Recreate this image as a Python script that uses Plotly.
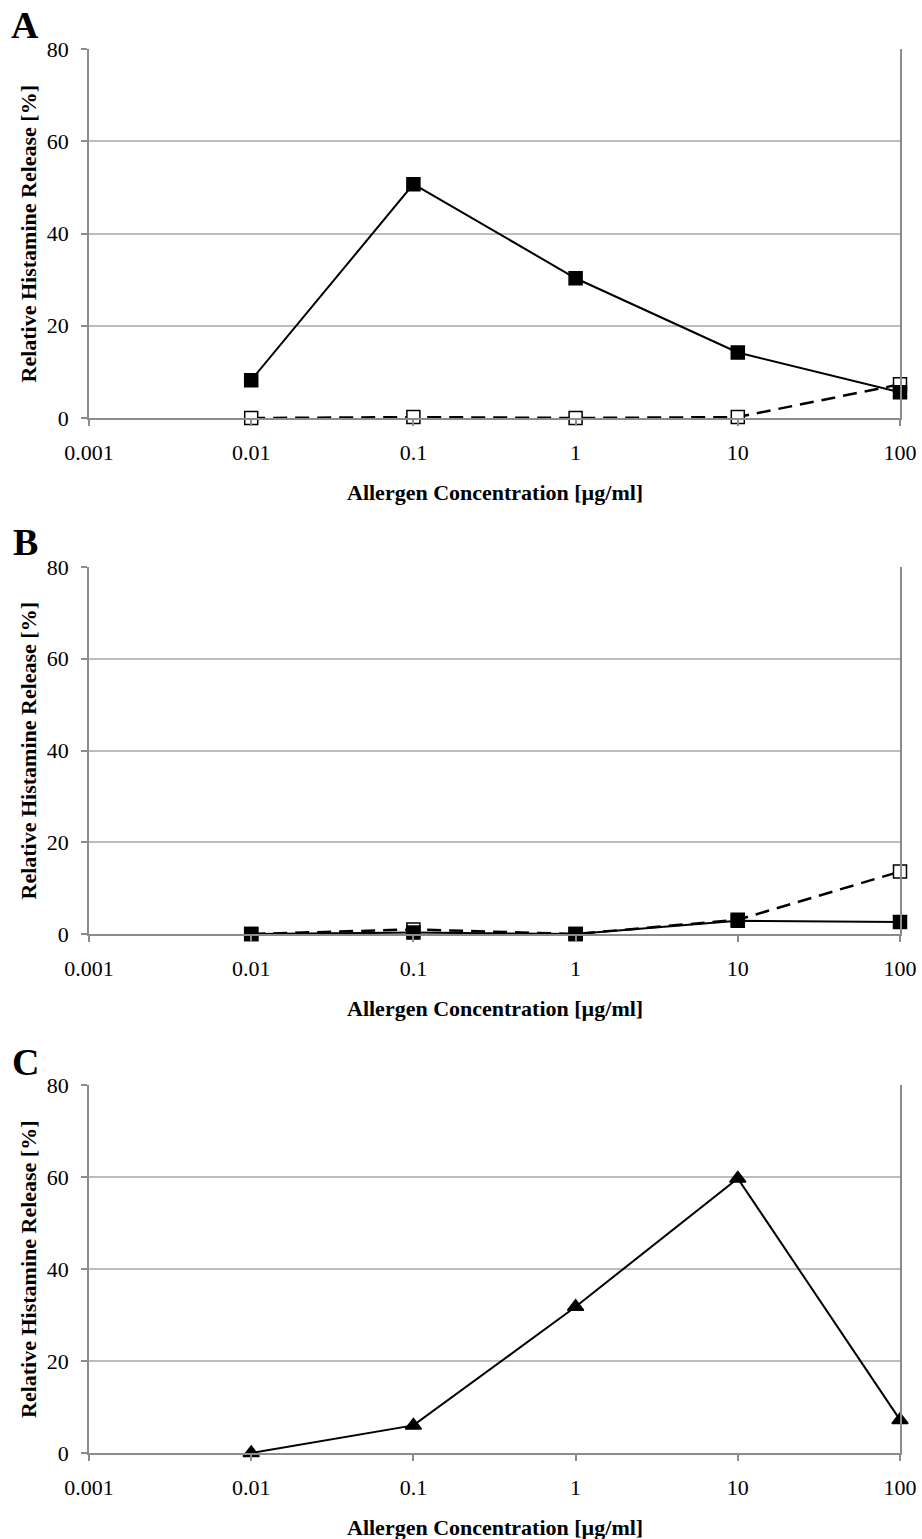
import plotly.graph_objects as go

conc = [0.01, 0.1, 1, 10, 100]
tick_vals = [0.001, 0.01, 0.1, 1, 10, 100]
tick_text = ["0.001", "0.01", "0.1", "1", "10", "100"]
y_ticks = [0, 20, 40, 60, 80]

a_filled = [8.2, 50.7, 30.3, 14.2, 5.6]
a_open = [0.0, 0.2, 0.0, 0.2, 7.3]
b_filled = [0.0, 0.3, 0.0, 2.9, 2.6]
b_open = [0.0, 1.0, 0.0, 3.1, 13.6]
c_tri = [0.0, 6.0, 31.8, 59.7, 7.2]

panel_labels = ["A", "B", "C"]
x_title = "Allergen Concentration [µg/ml]"
y_title = "Relative Histamine Release [%]"

W, H = 922, 1539
L, R = 89, 900
# panel pixel extents (top of 80, bottom at 0)
panels_px = [(49, 418), (567, 934), (1085, 1453)]
label_px = [25, 542, 1062]

FONT = "Liberation Serif"
GRID = "#bdbdbd"
AXIS = "#8c8c8c"
TICK_SIZE = 22
TITLE_SIZE = 22

fig = go.Figure()

def px2x(px):
    return (px - L) / (R - L)

def py2y(py):
    return 1 - py / H

def add_line(vals, idx, symbol, fill, dash, width):
    sfx = "" if idx == 1 else str(idx)
    fig.add_trace(go.Scatter(
        x=conc, y=vals, mode="lines+markers",
        xaxis="x" + sfx, yaxis="y" + sfx,
        line=dict(color="black", width=width, dash=dash),
        marker=dict(symbol=symbol, size=13 if symbol != "triangle-up" else 14,
                    color=fill, line=dict(color="black", width=1.5)),
        cliponaxis=False, showlegend=False,
    ))

add_line(a_open, 1, "square", "white", "14px,8px", 2.5)
add_line(a_filled, 1, "square", "black", "solid", 2)
add_line(b_open, 2, "square", "white", "14px,8px", 2.5)
add_line(b_filled, 2, "square", "black", "solid", 2)
add_line(c_tri, 3, "triangle-up", "black", "solid", 2)

layout = dict(
    width=W, height=H, autosize=False,
    margin=dict(l=L, r=W - R, t=0, b=0, pad=0, autoexpand=False),
    paper_bgcolor="white", plot_bgcolor="white",
    font=dict(family=FONT, color="black", size=TICK_SIZE),
    showlegend=False,
)
annotations = []
for i, ((top, bot), lab, lpy) in enumerate(zip(panels_px, panel_labels, label_px)):
    n = i + 1
    sfx = "" if n == 1 else str(n)
    dom = [py2y(bot), py2y(top)]
    layout["xaxis" + sfx] = dict(
        type="log", range=[-3, 2], domain=[0, 1], anchor="y" + sfx,
        tickvals=tick_vals, ticktext=tick_text, automargin=False,
        showgrid=False, showline=True, linecolor=AXIS, linewidth=1.5,
        ticks="outside", ticklen=6, tickcolor=AXIS, tickwidth=1.5,
        tickfont=dict(family=FONT, size=TICK_SIZE, color="black"),
        ticklabelstandoff=8, zeroline=False,
    )
    layout["yaxis" + sfx] = dict(
        range=[0, 80], domain=dom, anchor="x" + sfx, automargin=False,
        tickvals=y_ticks, showgrid=True, gridcolor=GRID, gridwidth=1.5,
        showline=True, linecolor=AXIS, linewidth=1.5, mirror=True,
        ticks="outside", ticklen=6, tickcolor=AXIS, tickwidth=1.5,
        tickfont=dict(family=FONT, size=TICK_SIZE, color="black"),
        ticklabelstandoff=8, zeroline=False,
    )
    annotations.append(dict(
        text="<b>" + lab + "</b>", x=px2x(25), y=py2y(lpy),
        xref="paper", yref="paper", xanchor="center", yanchor="middle",
        showarrow=False, font=dict(family=FONT, size=38, color="black"),
    ))
    annotations.append(dict(
        text="<b>" + x_title + "</b>", x=0.5, y=py2y(bot + 74),
        xref="paper", yref="paper", xanchor="center", yanchor="middle",
        showarrow=False, font=dict(family=FONT, size=TITLE_SIZE, color="black"),
    ))
    annotations.append(dict(
        text="<b>" + y_title + "</b>", x=px2x(28), y=py2y((top + bot) / 2),
        xref="paper", yref="paper", xanchor="center", yanchor="middle",
        textangle=-90, showarrow=False,
        font=dict(family=FONT, size=TITLE_SIZE, color="black"),
    ))
layout["annotations"] = annotations
fig.update_layout(**layout)

fig.write_html(
    "out.html",
    config={"displayModeBar": False},
    post_script="document.body.style.margin='0';document.body.style.overflow='hidden';",
)
